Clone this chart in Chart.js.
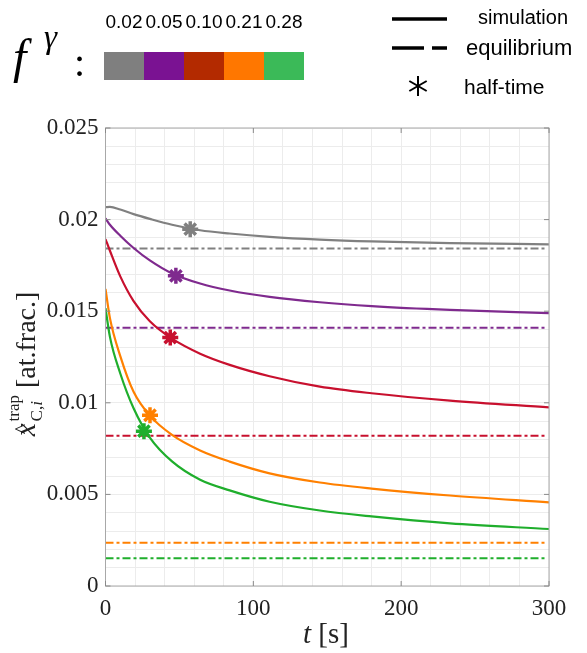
<!DOCTYPE html>
<html>
<head>
<meta charset="utf-8">
<script src="https://cdn.jsdelivr.net/npm/chart.js@4"></script>
<style>
html,body{margin:0;padding:0;background:#fff;}
#wrap{width:587px;height:653px;position:relative;}
</style>
</head>
<body>
<div id="wrap"><canvas id="c" width="587" height="653"></canvas></div>
<script>
// ---- data ----
const fractionLabels = ['0.02', '0.05', '0.10', '0.21', '0.28'];
const timeS = [0, 3, 10, 19, 30, 45, 64, 84, 111, 145, 180, 233, 300];
const simF002 = [0.02068, 0.02069, 0.02055, 0.0203, 0.02004, 0.01972, 0.01942, 0.01924, 0.01906, 0.01891, 0.01881, 0.01872, 0.01865];
const simF005 = [0.02007, 0.01972, 0.01912, 0.01845, 0.01777, 0.01706, 0.01651, 0.01613, 0.01578, 0.01549, 0.01528, 0.01507, 0.01489];
const simF010 = [0.01894, 0.0183, 0.0169, 0.01555, 0.01445, 0.0135, 0.01268, 0.01207, 0.01145, 0.01088, 0.01052, 0.01012, 0.00975];
const simF021 = [0.01621, 0.01462, 0.01255, 0.0106, 0.0093, 0.00825, 0.0074, 0.00679, 0.00615, 0.00565, 0.00532, 0.00494, 0.00457];
const simF028 = [0.01516, 0.0136, 0.0116, 0.0097, 0.0081, 0.0068, 0.0058, 0.00522, 0.0046, 0.00412, 0.0038, 0.00342, 0.00311];
const equilibrium = [0.01842, 0.0141, 0.0082, 0.00236, 0.00151];
const equilibriumSpan = [0, 297];
const halfTimeT = [57.3, 47.6, 43.8, 30.1, 26.0];
const halfTimeX = [0.01948, 0.01693, 0.01356, 0.00932, 0.00845];
const xTickLabels = ['0', '100', '200', '300'];
const yTickLabels = ['0', '0.005', '0.01', '0.015', '0.02', '0.025'];

// ---- styles ----
const lineColors = ['#808080', '#7f2a8e', '#c8102e', '#ff8000', '#1fae2c'];
const barColors = ['#7f7f7f', '#7a1292', '#b32a00', '#ff7700', '#3bba58'];
const simSeries = [simF002, simF005, simF010, simF021, simF028];

const datasets = [];
equilibrium.forEach((v, i) => {
  datasets.push({
    data: equilibriumSpan.map(t => ({x: t, y: v})),
    borderColor: lineColors[i], borderWidth: 2, borderDash: [8, 3, 3, 3],
    pointRadius: 0, showLine: true, order: 3
  });
});
simSeries.forEach((arr, i) => {
  datasets.push({
    data: timeS.map((t, k) => ({x: t, y: arr[k]})),
    borderColor: lineColors[i], borderWidth: 2.2, pointRadius: 0,
    showLine: true, cubicInterpolationMode: 'monotone', order: 2
  });
});
halfTimeT.forEach((t, i) => {
  datasets.push({
    data: [{x: t, y: halfTimeX[i]}],
    borderColor: lineColors[i], backgroundColor: lineColors[i],
    pointStyle: 'star', pointRadius: 8, borderWidth: 3.5, showLine: false, order: 1
  });
});

const L = 105.5, R = 549, T = 128, B = 586;

const deco = {
  id: 'deco',
  afterDraw(chart) {
    const ctx = chart.ctx;
    const a = chart.chartArea;
    ctx.save();
    // box
    ctx.strokeStyle = '#a8a8a8'; ctx.lineWidth = 1;
    ctx.strokeRect(a.left, a.top, a.right - a.left, a.bottom - a.top);
    // major tick marks (inward)
    const xs = chart.scales.x, ys = chart.scales.y;
    ctx.strokeStyle = '#8a8a8a';
    [0, 100, 200, 300].forEach(v => {
      const px = xs.getPixelForValue(v);
      ctx.beginPath(); ctx.moveTo(px, a.bottom); ctx.lineTo(px, a.bottom - 5); ctx.stroke();
      ctx.beginPath(); ctx.moveTo(px, a.top); ctx.lineTo(px, a.top + 5); ctx.stroke();
    });
    [0, 0.005, 0.01, 0.015, 0.02, 0.025].forEach(v => {
      const py = ys.getPixelForValue(v);
      ctx.beginPath(); ctx.moveTo(a.left, py); ctx.lineTo(a.left + 5, py); ctx.stroke();
      ctx.beginPath(); ctx.moveTo(a.right, py); ctx.lineTo(a.right - 5, py); ctx.stroke();
    });

    // x title: t [s]
    ctx.fillStyle = '#222';
    ctx.textBaseline = 'alphabetic';
    ctx.textAlign = 'left';
    ctx.font = 'italic 29px "Liberation Serif"';
    const tW = ctx.measureText('t').width;
    ctx.font = '29px "Liberation Serif"';
    const sW = ctx.measureText(' [s]').width;
    let x0 = 326 - (tW + sW) / 2;
    ctx.font = 'italic 29px "Liberation Serif"';
    ctx.fillText('t', x0, 643);
    ctx.font = '29px "Liberation Serif"';
    ctx.fillText(' [s]', x0 + tW, 643);

    // y title (rotated)
    ctx.save();
    ctx.translate(35, 364);
    ctx.rotate(-Math.PI / 2);
    ctx.textAlign = 'left';
    ctx.font = 'italic 29px "Liberation Serif"';
    const wx = ctx.measureText('x').width;
    ctx.font = '17px "Liberation Serif"';
    const wtrap = ctx.measureText('trap').width;
    const wC = ctx.measureText('C,').width;
    ctx.font = 'italic 17px "Liberation Serif"';
    const wi = ctx.measureText('i').width;
    ctx.font = '28px "Liberation Serif"';
    const wb = ctx.measureText(' [at.frac.]').width;
    const subW = Math.max(wtrap, wC + wi);
    const total = wx + 2 + subW + wb;
    let sx = -total / 2;
    ctx.font = 'italic 29px "Liberation Serif"';
    ctx.fillText('x', sx, 0);
    ctx.font = '22px "Liberation Serif"';
    ctx.fillText('^', sx + 2, -6);
    sx += wx + 2;
    ctx.font = '17px "Liberation Serif"';
    ctx.fillText('trap', sx, -16);
    ctx.fillText('C,', sx, 7);
    ctx.font = 'italic 17px "Liberation Serif"';
    ctx.fillText('i', sx + wC, 7);
    sx += subW;
    ctx.font = '28px "Liberation Serif"';
    ctx.fillText(' [at.frac.]', sx, 0);
    ctx.restore();

    // top-left legend: f^gamma : colorbar
    ctx.fillStyle = '#000';
    ctx.font = 'italic 48px "Liberation Serif"';
    ctx.fillText('f', 13, 73);
    ctx.font = 'italic 33px "Liberation Serif"';
    ctx.fillText('\u03B3', 44, 48);
    ctx.font = '40px "Liberation Serif"';
    ctx.fillText(':', 74, 76);
    const cw = 40;
    barColors.forEach((c, i) => {
      ctx.fillStyle = c;
      ctx.fillRect(104 + i * cw, 52, cw, 28);
    });
    ctx.fillStyle = '#000';
    ctx.font = '19px "Liberation Sans"';
    ctx.textAlign = 'center';
    fractionLabels.forEach((s, i) => {
      ctx.fillText(s, 104 + i * cw + cw / 2, 28);
    });

    // right legend
    ctx.strokeStyle = '#000'; ctx.lineWidth = 3.5;
    ctx.beginPath(); ctx.moveTo(392, 19); ctx.lineTo(447, 19); ctx.stroke();
    ctx.beginPath(); ctx.moveTo(392, 48); ctx.lineTo(424, 48); ctx.stroke();
    ctx.beginPath(); ctx.moveTo(432, 48); ctx.lineTo(447, 48); ctx.stroke();
    // asterisk
    ctx.lineWidth = 2;
    const ax = 418, ay = 86, ar = 10;
    for (let k = 0; k < 3; k++) {
      const ang = Math.PI / 2 + k * Math.PI / 3;
      ctx.beginPath();
      ctx.moveTo(ax + ar * Math.cos(ang), ay - ar * Math.sin(ang));
      ctx.lineTo(ax - ar * Math.cos(ang), ay + ar * Math.sin(ang));
      ctx.stroke();
    }
    ctx.textAlign = 'left';
    ctx.font = '20px "Liberation Sans"';
    ctx.fillText('simulation', 478, 24);
    ctx.font = '22px "Liberation Sans"';
    ctx.fillText('equilibrium', 466, 55);
    ctx.font = '21px "Liberation Sans"';
    ctx.fillText('half-time', 464, 94);
    ctx.restore();
  }
};

new Chart(document.getElementById('c'), {
  type: 'scatter',
  data: {datasets},
  options: {
    responsive: false,
    animation: false,
    layout: {padding: {top: T, right: 587 - R, left: 0, bottom: 0}},
    plugins: {legend: {display: false}, tooltip: {enabled: false}},
    scales: {
      x: {
        type: 'linear', min: 0, max: 300,
        afterFit: s => { s.height = 653 - B; },
        grid: {color: '#ececec', lineWidth: 1, drawTicks: false},
        border: {display: false},
        ticks: {
          stepSize: 20, autoSkip: false, maxRotation: 0, padding: 9,
          color: '#222', font: {family: '"Liberation Serif"', size: 23},
          callback: v => (Math.round(v) % 100 === 0 ? xTickLabels[Math.round(v) / 100] : '')
        }
      },
      y: {
        type: 'linear', min: 0, max: 0.025,
        afterFit: s => { s.width = L; },
        grid: {color: '#ececec', lineWidth: 1, drawTicks: false},
        border: {display: false},
        ticks: {
          stepSize: 0.001, autoSkip: false, padding: 7,
          color: '#222', font: {family: '"Liberation Serif"', size: 23},
          callback: v => { const m = Math.round(v * 1000); return m % 5 === 0 ? yTickLabels[m / 5] : ''; }
        }
      }
    }
  },
  plugins: [deco]
});
</script>
</body>
</html>
